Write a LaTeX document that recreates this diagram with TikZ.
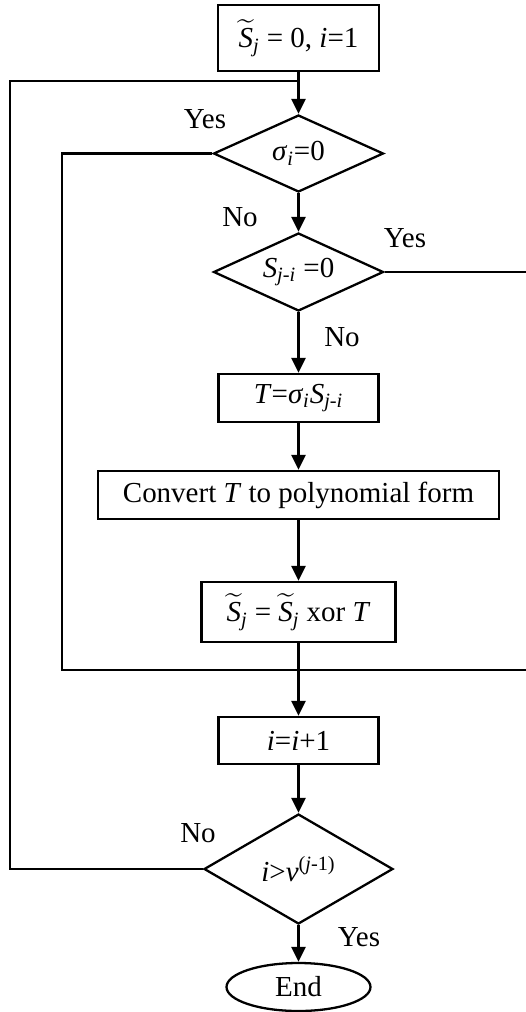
\documentclass[tikz,border=0pt]{standalone}
\usepackage{amsmath}
\usepackage{fontspec}
\setmainfont{Liberation Serif}
\usetikzlibrary{arrows.meta, shapes.geometric}

\begin{document}
\begin{tikzpicture}[x=0.02cm, y=-0.02cm, >={Triangle[length=0.3cm, width=0.28cm]},
    line width=1.5pt, font=\fontsize{16.5}{19}\selectfont,
    box/.style={draw, line width=1.3pt, inner sep=0pt},
    decision/.style={draw, diamond, line width=1.3pt, inner sep=0pt, aspect=2.2},
    term/.style={draw, ellipse, line width=1.3pt, inner sep=0pt}]
    \useasboundingbox (0,0) rectangle (526,1012);

    % 1. Các khối của lưu đồ
    \node[box, minimum width=3.22cm, minimum height=1.32cm] (init) at (298.5,38)
        {$\widetilde{\textit{S}}_{\textit{j}}$ = 0, \textit{i}=1};
    \node[decision, minimum width=3.4cm, minimum height=1.54cm] (d1) at (298.5,153.5)
        {\textit{σ}\textsubscript{\textit{i}}=0};
    \node[decision, minimum width=3.4cm, minimum height=1.56cm] (d2) at (298.5,272)
        {\textit{S}\textsubscript{\textit{j}-\textit{i}} =0};
    \node[box, minimum width=3.2cm, minimum height=0.96cm] (boxT) at (298.5,398)
        {\textit{T}=\textit{σ}\textsubscript{\textit{i}}\textit{S}\textsubscript{\textit{j}-\textit{i}}};
    \node[box, minimum width=8.02cm, minimum height=0.96cm] (conv) at (298.5,495)
        {Convert \textit{T} to polynomial form};
    \node[box, minimum width=3.88cm, minimum height=1.2cm] (sxor) at (298.5,612)
        {$\widetilde{\textit{S}}_{\textit{j}}$ = $\widetilde{\textit{S}}_{\textit{j}}$ xor \textit{T}};
    \node[box, minimum width=3.2cm, minimum height=0.94cm] (inc) at (298.5,740.5)
        {\textit{i}=\textit{i}+1};
    \node[decision, minimum width=3.78cm, minimum height=2.2cm] (d3) at (298.5,869)
        {\textit{i}>\textit{ν}\textsuperscript{(\textit{j}-1)}};
    \node[term, minimum width=2.88cm, minimum height=0.96cm] (end) at (298.5,987) {End};

    % 2. Các điểm gấp khúc
    \coordinate (top) at (298.5,81);
    \coordinate (lpA) at (10,81);
    \coordinate (lpB) at (10,869);
    \coordinate (ylA) at (62,153.5);
    \coordinate (ylB) at (62,670);
    \coordinate (mrg) at (298.5,670);
    \coordinate (rtA) at (526,272);
    \coordinate (rtB) at (526,670);

    % 3. Các mũi tên
    \draw[->] (init) -- (d1);
    \draw[->] (d1) -- (d2);
    \draw[->] (d2) -- (boxT);
    \draw[->] (boxT) -- (conv);
    \draw[->] (conv) -- (sxor);
    \draw[->] (sxor) -- (inc);
    \draw[->] (inc) -- (d3);
    \draw[->] (d3) -- (end);
    \draw (d3.west) -- (lpB) -- (lpA) -- (top);
    \draw (d1.west) -- (ylA) -- (ylB) -- (mrg);
    \draw (d2.east) -- (rtA);
    \draw (ylB) -- (rtB);

    % 4. Nhãn Yes/No
    \node (yes1) at (205,119) {Yes};
    \node (no1) at (240,217) {No};
    \node (yes2) at (405,238) {Yes};
    \node (no2) at (342,337) {No};
    \node (no3) at (198,833) {No};
    \node (yes3) at (359,937) {Yes};
\end{tikzpicture}
\end{document}
